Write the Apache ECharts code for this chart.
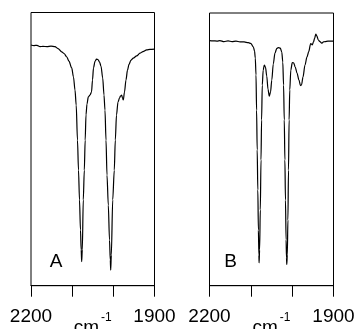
<!DOCTYPE html>
<html>
<head>
<meta charset="utf-8">
<script src="https://cdn.jsdelivr.net/npm/echarts@6/dist/echarts.min.js"></script>
<style>
html,body{margin:0;padding:0;background:#fff;}
#c{width:354px;height:329px;}
</style>
</head>
<body>
<div id="c"></div>
<script>
// Panel A spectrum: wavenumber (cm-1) and relative transmittance (%)
var wnA = [2200,2192.7,2185.4,2178.1,2170.9,2161.1,2151.4,2141.7,2134.4,2125.4,2119.8,2113.3,2107.7,2101.1,2096.8,2093.1,2090.2,2087.1,2084.6,2082.2,2079.8,2078.1,2076.9,2075.4,2073.0,2070.5,2068.4,2066.4,2064.0,2060.8,2056.7,2053.0,2050.6,2048.2,2044.5,2040.9,2037.3,2033.6,2030.0,2025.8,2022.7,2020.3,2017.8,2015.4,2012.2,2009.3,2007.4,2006.4,2004.9,2001.5,1997.7,1995.2,1992.3,1988.7,1985.0,1982.6,1979.7,1977.8,1975.8,1972.9,1969.3,1965.6,1962.0,1957.1,1951.6,1943.3,1935.3,1928.0,1919.0,1911.0,1900];
var tA  = [88.1,87.9,88.0,87.5,87.6,87.5,87.7,87.5,86.8,85.6,85.0,83.8,82.2,79.7,76.4,71.6,66.1,53.3,42.3,31.4,20.4,13.1,8.8,13.1,31.4,42.3,53.3,62.5,66.5,69.1,69.8,70.9,75.3,79.7,82.1,82.9,82.8,81.9,80.4,76.0,69.8,64.3,53.3,40.5,29.5,16.7,9.4,5.7,11.2,31.4,42.3,53.3,62.5,67.2,68.7,69.4,69.8,68.7,68.0,70.9,75.3,78.9,81.0,82.6,83.3,84.1,85.1,85.7,86.3,86.5,86.6];
// Panel B spectrum
var wnB = [2200,2191.5,2181.9,2174.6,2164.9,2155.2,2145.6,2135.9,2126.2,2116.5,2106.1,2099.6,2094.0,2091.1,2089.2,2087.5,2086.1,2084.6,2083.1,2081.7,2080.5,2080.0,2078.8,2077.1,2075.4,2074.0,2072.3,2070.1,2067.5,2064.6,2061.5,2058.5,2055.4,2052.4,2049.3,2045.7,2041.6,2037.2,2033.6,2028.7,2025.1,2022.7,2020.8,2019.1,2017.6,2016.2,2014.7,2013.7,2013.0,2011.8,2010.3,2008.9,2007.4,2005.8,2003.3,1999.7,1996.3,1992.7,1988.3,1983.5,1979.9,1977.4,1973.8,1969.0,1964.1,1960.0,1955.2,1951.3,1948.4,1945.5,1942.9,1940.4,1936.8,1932.7,1928.6,1924.2,1920.6,1913.3,1906.1,1900];
var tB  = [89.9,89.8,89.7,89.9,89.5,89.8,89.5,89.7,89.4,89.4,89.1,88.8,87.6,86.1,83.5,77.3,64.4,49.8,35.1,20.4,11.3,8.4,13.1,27.8,46.1,60.8,73.6,79.1,80.9,80.2,76.9,72.1,69.5,71.0,75.4,81.3,85.3,87.0,87.3,87.1,85.7,82.0,73.6,60.8,46.1,31.4,16.8,10.2,7.8,11.3,24.1,42.4,60.8,71.8,79.1,81.8,81.7,80.2,78.0,75.4,73.4,73.6,76.5,80.9,83.9,85.8,88.8,88.3,89.4,90.8,92.3,91.6,90.1,89.5,88.9,89.4,89.5,89.7,89.7,89.7];
var xTicks = [2200, 2100, 2000, 1900];
var endLabels = [2200, 1900];
var panelLabels = ['A', 'B'];
var unitMain = 'cm';
var unitSup = '-1';

function zip(a, b) { return a.map(function (v, i) { return [v, b[i]]; }); }

var FONT = 'Liberation Sans';
function xAxisFor(idx) {
  return {
    type: 'value', gridIndex: idx, inverse: true,
    min: xTicks[xTicks.length - 1], max: xTicks[0], interval: 100,
    axisLine: { show: true, onZero: false, lineStyle: { color: '#000', width: 1 } },
    axisTick: { show: true, inside: false, length: 11, lineStyle: { color: '#000', width: 1 } },
    splitLine: { show: false },
    axisLabel: {
      margin: 22, fontFamily: FONT, fontSize: 19, color: '#000',
      formatter: function (v) { return endLabels.indexOf(v) >= 0 ? String(v) : ''; }
    },
    name: '{m|' + unitMain + '}{s|' + unitSup + '}',
    nameLocation: 'middle', nameGap: 26, nameMoveOverlap: false,
    nameTextStyle: {
      rich: {
        m: { fontFamily: FONT, fontSize: 19, color: '#000', lineHeight: 32, verticalAlign: 'middle' },
        s: { fontFamily: FONT, fontSize: 12, color: '#000', lineHeight: 12, verticalAlign: 'top', padding: [0, 0, 0, 2] }
      }
    }
  };
}
function yAxisFor(idx) {
  return {
    type: 'value', gridIndex: idx, min: 0, max: 100,
    axisLine: { show: false }, axisTick: { show: false },
    axisLabel: { show: false }, splitLine: { show: false }
  };
}

var chart = echarts.init(document.getElementById('c'), null, { renderer: 'canvas' });
chart.setOption({
  animation: false,
  backgroundColor: '#fff',
  grid: [
    { left: 31, top: 12.5, width: 123.5, height: 273.2, show: true, borderColor: '#000', borderWidth: 1, backgroundColor: 'transparent', containLabel: false, outerBoundsMode: 'none' },
    { left: 209.5, top: 13, width: 124, height: 272.7, show: true, borderColor: '#000', borderWidth: 1, backgroundColor: 'transparent', containLabel: false, outerBoundsMode: 'none' }
  ],
  xAxis: [xAxisFor(0), xAxisFor(1)],
  yAxis: [yAxisFor(0), yAxisFor(1)],
  series: [
    { type: 'line', xAxisIndex: 0, yAxisIndex: 0, data: zip(wnA, tA), showSymbol: false, smooth: 0.3, smoothMonotone: 'x', lineStyle: { color: '#000', width: 1.2 } },
    { type: 'line', xAxisIndex: 1, yAxisIndex: 1, data: zip(wnB, tB), showSymbol: false, smooth: 0.3, smoothMonotone: 'x', lineStyle: { color: '#000', width: 1.2 } }
  ],
  graphic: [
    { type: 'text', x: 56, y: 261.5, style: { text: panelLabels[0], font: '19px "' + FONT + '"', fill: '#000', align: 'center', verticalAlign: 'middle' } },
    { type: 'text', x: 230.5, y: 261.5, style: { text: panelLabels[1], font: '19px "' + FONT + '"', fill: '#000', align: 'center', verticalAlign: 'middle' } }
  ]
});
</script>
</body>
</html>
